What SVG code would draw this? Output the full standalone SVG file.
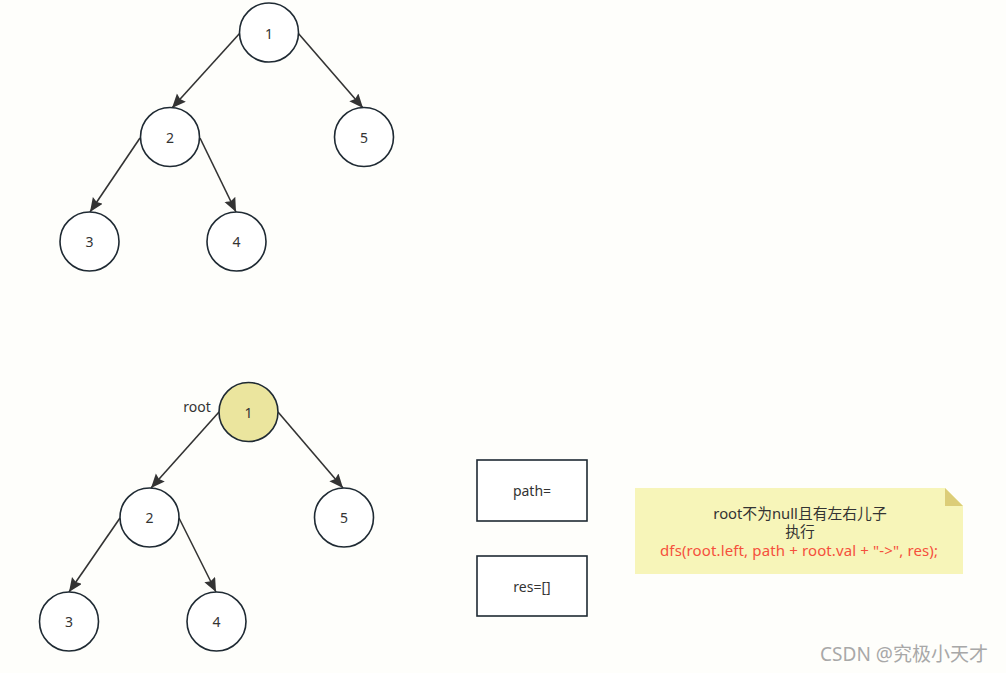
<svg xmlns="http://www.w3.org/2000/svg" width="1006" height="673" viewBox="0 0 1006 673">
<defs>
<style>
.n{fill:#ffffff;stroke:#1f2a33;stroke-width:1.6}
.hl{fill:#ebe59e}
.t{font-family:"Noto Sans","Noto Sans CJK SC",sans-serif;font-size:14px;fill:#333333;text-anchor:middle;dominant-baseline:central}
.nt{font-size:14.8px}
.e{stroke:#333333;stroke-width:1.6;fill:none;marker-end:url(#ah)}
.box{fill:#ffffff;stroke:#1f2a33;stroke-width:1.6}
.red{fill:#f5503c;font-size:15px}
</style>
<marker id="ah" markerUnits="userSpaceOnUse" markerWidth="15" markerHeight="13" refX="14" refY="6" orient="auto">
<path d="M0,0 L14,6 L0,12 L2,6 z" fill="#333333"/>
</marker>
</defs>
<rect width="1006" height="673" fill="#fefefb"/>
<g id="connectors">
<line class="e" x1="240" y1="33" x2="172" y2="108"/>
<line class="e" x1="298" y1="33" x2="363" y2="108"/>
<line class="e" x1="140" y1="138" x2="90" y2="212"/>
<line class="e" x1="200" y1="138" x2="236" y2="212"/>
<line class="e" x1="219" y1="412" x2="151" y2="488"/>
<line class="e" x1="278" y1="412" x2="343" y2="488"/>
<line class="e" x1="120" y1="518" x2="69" y2="592"/>
<line class="e" x1="179" y1="518" x2="216" y2="592"/>
</g>
<g id="t1"><circle class="n" cx="269" cy="32.5" r="29.5"/><text class="t" x="269" y="33">1</text></g>
<g id="t2"><circle class="n" cx="170" cy="137" r="29.5"/><text class="t" x="170" y="137">2</text></g>
<g id="t5"><circle class="n" cx="364" cy="137" r="29.5"/><text class="t" x="364" y="137">5</text></g>
<g id="t3"><circle class="n" cx="89.5" cy="241.5" r="29.5"/><text class="t" x="89.5" y="241">3</text></g>
<g id="t4"><circle class="n" cx="236.5" cy="241.5" r="29.5"/><text class="t" x="236.5" y="241">4</text></g>
<g id="b1"><circle class="n hl" cx="248.5" cy="412" r="29.5"/><text class="t" x="248.5" y="412">1</text></g>
<g id="rootlabel"><text class="t" x="197" y="406">root</text></g>
<g id="b2"><circle class="n" cx="149.5" cy="517.5" r="29.5"/><text class="t" x="149.5" y="517">2</text></g>
<g id="b5"><circle class="n" cx="344" cy="517.5" r="29.5"/><text class="t" x="344" y="517">5</text></g>
<g id="b3"><circle class="n" cx="69" cy="621.5" r="29.5"/><text class="t" x="69" y="621">3</text></g>
<g id="b4"><circle class="n" cx="216.5" cy="621.5" r="29.5"/><text class="t" x="216.5" y="621">4</text></g>
<g id="path"><rect class="box" x="477" y="460" width="110" height="61"/><text class="t" x="532" y="490">path=</text></g>
<g id="res"><rect class="box" x="477" y="556" width="110" height="60"/><text class="t" x="532" y="586">res=[]</text></g>
<g id="note">
<path d="M635,488 L945,488 L963,506 L963,574 L635,574 z" fill="#f7f5b9"/>
<path d="M945,488 L963,506 L945,506 z" fill="#dccd78"/>
<text class="t nt" x="800" y="513">root不为null且有左右儿子</text>
<text class="t nt" x="800" y="531">执行</text>
<text class="t red" x="799" y="550" textLength="278" lengthAdjust="spacing">dfs(root.left, path + root.val + "-&gt;", res);</text>
</g>
<text x="904" y="654" font-family="Noto Sans,Noto Sans CJK SC,sans-serif" font-size="19" fill="#a8a8a8" text-anchor="middle" dominant-baseline="central">CSDN @究极小天才</text>
</svg>
